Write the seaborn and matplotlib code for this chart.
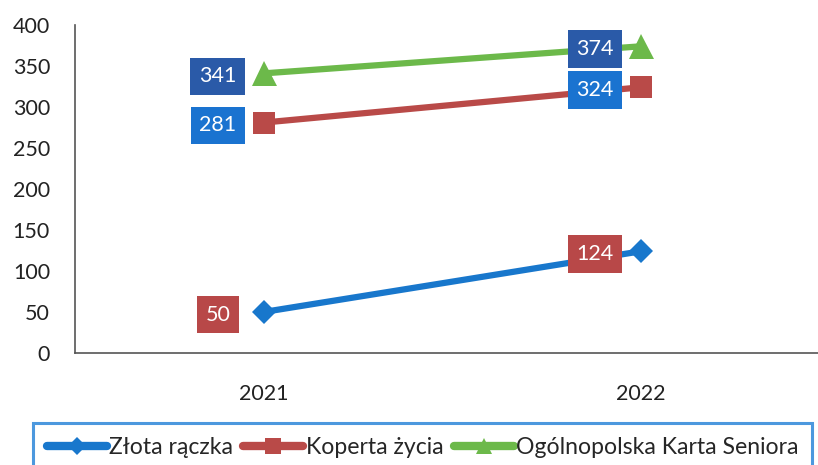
import matplotlib
matplotlib.use("Agg")
import matplotlib.pyplot as plt
import seaborn as sns
import pandas as pd

years = ["2021", "2022"]
series_names = ["Złota rączka", "Koperta życia", "Ogólnopolska Karta Seniora"]
zlota = [50, 124]
koperta = [281, 324]
karta = [341, 374]
y_ticks = [0, 50, 100, 150, 200, 250, 300, 350, 400]

line_colors = ["#1877cc", "#b94a48", "#6cb94a"]
box_colors = ["#b84848", "#1a73d0", "#2a5aa8"]
markers = ["D", "s", "^"]
marker_sizes = [12, 16, 18]

rows = []
for name, vals in zip(series_names, [zlota, koperta, karta]):
    for i, (yr, v) in enumerate(zip(years, vals)):
        rows.append({"pos": i, "year": yr, "value": v, "series": name})
df = pd.DataFrame(rows)

sns.set_theme(style="white")
plt.rcParams["font.family"] = ["Lato", "DejaVu Sans"]

fig = plt.figure(figsize=(8.18, 4.65), dpi=100)
ax = fig.add_axes([75 / 818, 1 - 353 / 465, (818 - 75) / 818, (353 - 25) / 465])

sns.lineplot(
    data=df, x="pos", y="value", hue="series", style="series",
    hue_order=series_names, style_order=series_names,
    palette=dict(zip(series_names, line_colors)),
    markers=dict(zip(series_names, markers)), dashes=False,
    linewidth=4.5, markersize=16, markeredgewidth=0, ax=ax, legend=True,
)
for line, ms in zip(ax.lines, marker_sizes):
    line.set_markersize(ms)

for name, vals, bc in zip(series_names, [zlota, koperta, karta], box_colors):
    for i, v in enumerate(vals):
        ax.annotate(
            str(v), xy=(i, v), xytext=(-33, -2), textcoords="offset points",
            ha="center", va="center", color="white", fontsize=15.5,
            bbox=dict(boxstyle="square,pad=0.4", fc=bc, ec="none"),
        )

ax.set_xlim(-0.5, 1.47)
ax.set_ylim(0, 400)
ax.set_xticks(range(len(years)))
ax.set_xticklabels(years)
ax.set_yticks(y_ticks)
ax.set_xlabel("")
ax.set_ylabel("")
ax.tick_params(axis="both", length=0, labelsize=15.5, colors="#222222")
ax.tick_params(axis="y", pad=18)
ax.tick_params(axis="x", pad=22)
for s in ["top", "right"]:
    ax.spines[s].set_visible(False)
for s in ["left", "bottom"]:
    ax.spines[s].set_color("#555555")
    ax.spines[s].set_linewidth(1.2)

handles, labels = ax.get_legend_handles_labels()
ax.get_legend().remove()
for h, ms in zip(handles, [9, 12, 12]):
    h.set_linewidth(6)
    h.set_markersize(ms)
leg = fig.legend(
    handles, labels, loc="lower center", bbox_to_anchor=(0.5165, -0.015),
    ncol=3, fontsize=16.6, frameon=True, fancybox=False,
    handlelength=2.6, handletextpad=0.1, columnspacing=0.45,
    borderpad=0.6, borderaxespad=0,
)
leg.get_frame().set_edgecolor("#1f7fd6")
leg.get_frame().set_linewidth(2.2)

fig.savefig("out.png", dpi=100)
